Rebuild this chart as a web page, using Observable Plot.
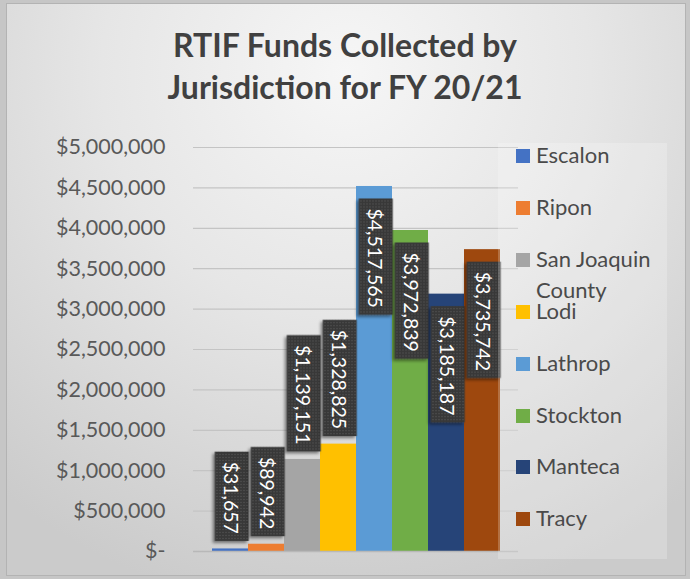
<!DOCTYPE html>
<html>
<head>
<meta charset="utf-8">
<script src="https://cdn.jsdelivr.net/npm/d3@7"></script>
<script src="https://cdn.jsdelivr.net/npm/@observablehq/plot@0.6"></script>
<style>
  html, body { margin: 0; padding: 0; background: #c6c6c6; }
  #wrap { position: relative; width: 690px; height: 579px; overflow: hidden; background: #c6c6c6; font-family: Lato, "Open Sans", sans-serif; }
  #frame { position: absolute; left: 6px; top: 3px; width: 678px; height: 571px; border: 1px solid #b3b3b3;
    background: radial-gradient(ellipse 80% 95% at 50% 12%, #f6f6f6 0%, #e6e6e6 45%, #cbcbcb 100%); }
  #title { position: absolute; left: 0; width: 690px; top: 24px; text-align: center; font-weight: 700; font-size: 32px; line-height: 42px; color: #404040; }
  #chart { position: absolute; left: 0; top: 0; }
  #legendBox { position: absolute; left: 498px; top: 143px; width: 169px; height: 416px; background: rgba(255,255,255,0.22); }
  #legend { position: absolute; left: 0; top: 0; }
  .item { position: absolute; left: 516px; }
  .sw { position: absolute; left: 0; top: 10px; width: 14px; height: 14px; }
  .lt { position: absolute; left: 20px; top: 0; width: 140px; font-size: 22px; line-height: 31px; color: #4a4a4a; }
</style>
</head>
<body>
<div id="wrap">
  <div id="frame"></div>
  <div id="title">RTIF Funds Collected by<br>Jurisdiction for FY 20/21</div>
  <div id="chart"></div>
  <div id="legendBox"></div>
  <div id="legend"></div>
</div>
<script>
const names = ["Escalon", "Ripon", "San Joaquin County", "Lodi", "Lathrop", "Stockton", "Manteca", "Tracy"];
const values = [31657, 89942, 1139151, 1328825, 4517565, 3972839, 3185187, 3735742];
const colors = ["#4472C4", "#ED7D31", "#A5A5A5", "#FFC000", "#5B9BD5", "#70AD47", "#264478", "#9E480E"];
const yTicks = [0, 500000, 1000000, 1500000, 2000000, 2500000, 3000000, 3500000, 4000000, 4500000, 5000000];

const data = names.map((name, i) => ({name, value: values[i]}));
const fmt = v => v === 0 ? "$-" : "$" + d3.format(",")(v);
const insideThreshold = 2500000;
const labelSize = 19.5;

const chart = Plot.plot({
  width: 690,
  height: 579,
  marginTop: 147,
  marginBottom: 28,
  marginLeft: 193,
  marginRight: 172,
  style: {background: "transparent", fontFamily: "Lato, 'Open Sans', sans-serif", overflow: "visible"},
  x: {domain: names, paddingInner: 0, paddingOuter: 0.47, axis: null},
  y: {domain: [0, 5000000], axis: null},
  color: {domain: names, range: colors},
  marks: [
    Plot.gridY(yTicks, {stroke: "#c4c4c4", strokeOpacity: 1, strokeWidth: 1.2}),
    Plot.axisY(yTicks, {tickSize: 0, tickPadding: 28, fontSize: 21.5, fill: "#595959", tickFormat: fmt, label: null}),
    Plot.barY(data, {x: "name", y: "value", fill: "name"}),
    Plot.ruleY([0], {stroke: "#b8b8b8", strokeWidth: 1.5}),
    Plot.text(data.filter(d => d.value >= insideThreshold), {
      x: "name", y: "value", text: d => fmt(d.value), rotate: 90,
      textAnchor: "start", lineAnchor: "middle", dy: 22, fill: "white", fontSize: labelSize
    }),
    Plot.text(data.filter(d => d.value < insideThreshold), {
      x: "name", y: "value", text: d => fmt(d.value), rotate: 90,
      textAnchor: "end", lineAnchor: "middle", dy: -15, fill: "white", fontSize: labelSize
    })
  ]
});

document.getElementById("chart").appendChild(chart);

// defs: dotted fill and shadow for data label boxes
const ns = "http://www.w3.org/2000/svg";
const defs = document.createElementNS(ns, "defs");
defs.innerHTML = `
  <pattern id="dots" width="3" height="3" patternUnits="userSpaceOnUse">
    <rect width="3" height="3" fill="#393939"></rect>
    <circle cx="1.5" cy="1.5" r="0.55" fill="#5e5e5e"></circle>
  </pattern>
  <filter id="shadow" x="-30%" y="-30%" width="160%" height="160%">
    <feDropShadow dx="2" dy="2" stdDeviation="1.8" flood-color="#000" flood-opacity="0.45"></feDropShadow>
  </filter>`;
chart.insertBefore(defs, chart.firstChild);

const padStart = 10, padEnd = 7, boxW = 34;
chart.querySelectorAll('g[aria-label="text"] text').forEach(t => {
  const b = t.getBBox();
  const r = document.createElementNS(ns, "rect");
  r.setAttribute("x", b.x - padStart);
  r.setAttribute("y", b.y + b.height / 2 - boxW / 2);
  r.setAttribute("width", b.width + padStart + padEnd);
  r.setAttribute("height", boxW);
  r.setAttribute("fill", "url(#dots)");
  r.setAttribute("filter", "url(#shadow)");
  r.setAttribute("stroke", "none");
  const tr = t.getAttribute("transform");
  if (tr) r.setAttribute("transform", tr);
  t.parentNode.insertBefore(r, t);
});

// legend
const legend = document.getElementById("legend");
const legendTop = 139, legendStep = 51.9;
names.forEach((n, i) => {
  const item = document.createElement("div");
  item.className = "item";
  item.style.top = (legendTop + i * legendStep) + "px";
  const sw = document.createElement("div");
  sw.className = "sw";
  sw.style.background = colors[i];
  const lt = document.createElement("div");
  lt.className = "lt";
  lt.textContent = n;
  item.appendChild(sw);
  item.appendChild(lt);
  legend.appendChild(item);
});
</script>
</body>
</html>
